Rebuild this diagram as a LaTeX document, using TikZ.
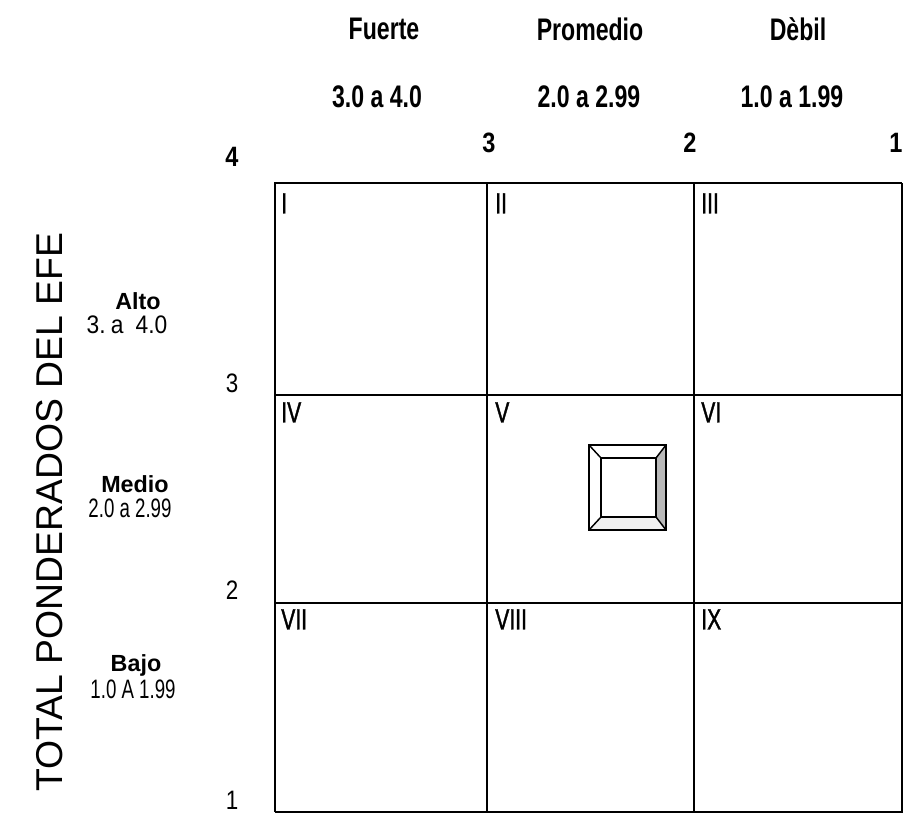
\documentclass[tikz,border=0pt]{standalone}
\usepackage{fontspec}
\setmainfont{Liberation Sans}
\newfontfamily\narrowfont[FakeStretch=0.74]{Liberation Sans}
\newfontfamily\numfont[FakeStretch=0.84]{Liberation Sans}
\newfontfamily\lblfont[FakeStretch=0.7]{Liberation Sans}
\newfontfamily\widefont[FakeStretch=0.9]{Liberation Sans}
\newfontfamily\romanfont[FakeStretch=0.72,FakeBold=1.2]{Liberation Sans}
\begin{document}
\begin{tikzpicture}[x=0.75pt,y=-0.75pt,
  hdr/.style={font=\narrowfont\bfseries\fontsize{23.4}{26}\selectfont, inner sep=0pt},
  ax/.style={font=\numfont\bfseries\fontsize{21}{24}\selectfont, inner sep=0pt},
  axl/.style={font=\numfont\fontsize{20}{23}\selectfont, inner sep=0pt},
  lbl/.style={font=\bfseries\fontsize{17.5}{20}\selectfont, inner sep=0pt},
  rng/.style={font=\lblfont\fontsize{20}{22}\selectfont, inner sep=0pt},
  rngw/.style={font=\widefont\fontsize{19}{22}\selectfont, inner sep=0pt},
  rom/.style={font=\romanfont\fontsize{22}{24}\selectfont, inner sep=0pt, anchor=north west},
  thick line/.style={line width=1.9pt},
  thin line/.style={line width=0.8pt}]
\useasboundingbox (0,0) rectangle (903,814);
% outer lines
\draw[thick line] (275,812) -- (275,183) -- (902,183);
\draw[thin line] (902,183) -- (902,812) -- (275,812);
% inner lines
\draw[thick line] (487,183) -- (487,812);
\draw[thick line] (694,183) -- (694,812);
\draw[thick line] (275,395) -- (902,395);
\draw[thick line] (275,603) -- (902,603);
% header labels
\node[hdr] (h1) at (384,29) {Fuerte};
\node[hdr] (h2) at (590,29) {Promedio};
\node[hdr] (h3) at (798,29) {Dèbil};
\node[hdr] (r1) at (377,97) {3.0 a 4.0};
\node[hdr] (r2) at (589,97) {2.0 a 2.99};
\node[hdr] (r3) at (792,97) {1.0 a 1.99};
% top axis numbers
\node[ax] (t4) at (232,157) {4};
\node[ax] (t3) at (489,143) {3};
\node[ax] (t2) at (690,143) {2};
\node[ax] (t1) at (896,143) {1};
% left axis numbers
\node[axl] (l3) at (232,383) {3};
\node[axl] (l2) at (232,590) {2};
\node[axl] (l1) at (232,800) {1};
% left labels
\node[lbl] (alto) at (138,301) {Alto};
\node[rngw] (altor) at (127,325) {3.\hspace{4pt}a\hspace{9pt}4.0};
\node[lbl] (medio) at (135,484) {Medio};
\node[rng] (medior) at (130,508) {2.0 a 2.99};
\node[lbl] (bajo) at (136,665) {Bajo};
\node[rng] (bajor) at (133,689) {1.0 A 1.99};
% vertical title
\node[font=\fontsize{28}{30}\selectfont, rotate=90, inner sep=0pt] (title) at (50,512) {TOTAL PONDERADOS DEL EFE};
% cell numerals
\node[rom] (c1) at (281,193) {I};
\node[rom] (c2) at (495,193) {II};
\node[rom] (c3) at (701,193) {III};
\node[rom] (c4) at (281,402) {IV};
\node[rom] (c5) at (495,402) {V};
\node[rom] (c6) at (701,402) {VI};
\node[rom] (c7) at (281,609) {VII};
\node[rom] (c8) at (495,609) {VIII};
\node[rom] (c9) at (701,609) {IX};
% beveled box
\fill[gray!55] (666,445) -- (656,458) -- (656,517) -- (666,530) -- cycle;
\fill[gray!12] (589,530) -- (601,517) -- (656,517) -- (666,530) -- cycle;
\draw[line width=1.1pt] (589,445) -- (601,458);
\draw[line width=1.1pt] (666,445) -- (656,458);
\draw[line width=1.1pt] (589,530) -- (601,517);
\draw[line width=1.1pt] (666,530) -- (656,517);
\draw[line width=1.1pt] (601,458) rectangle (656,517);
\draw[line width=2.2pt] (589,445) rectangle (666,530);
\end{tikzpicture}
\end{document}
